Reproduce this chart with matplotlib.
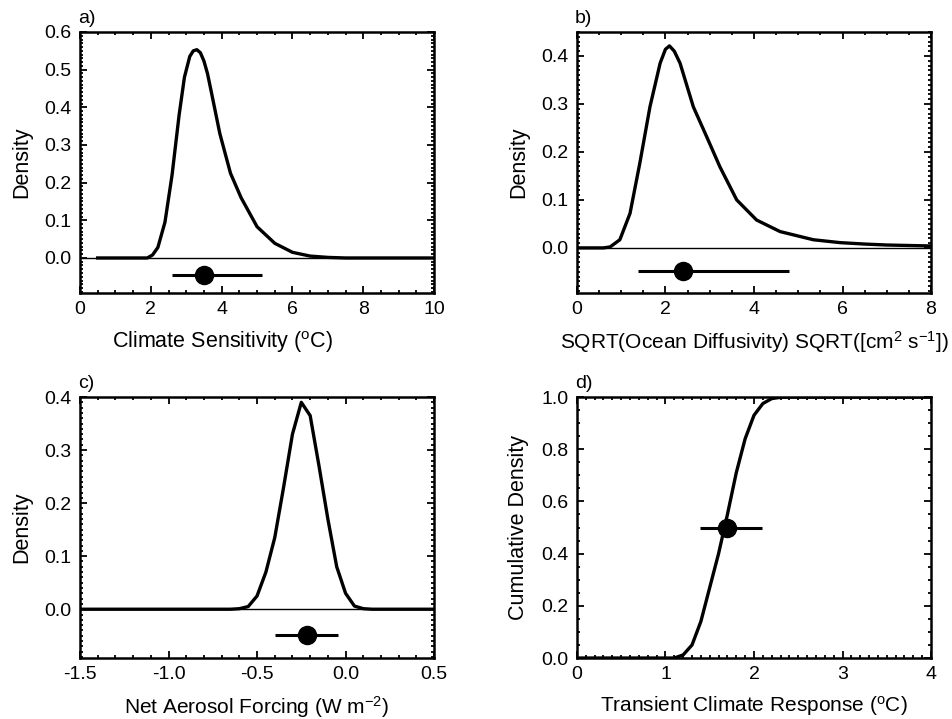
import numpy as np
import matplotlib
matplotlib.use('Agg')
import matplotlib.pyplot as plt
from matplotlib.ticker import MultipleLocator

plt.rcParams['font.family'] = ['Liberation Sans', 'DejaVu Sans']
plt.rcParams['mathtext.fontset'] = 'custom'
plt.rcParams['mathtext.rm'] = 'Liberation Sans'
plt.rcParams['mathtext.it'] = 'Liberation Sans'

# a) climate sensitivity pdf
cs_x = [0.5, 1.5, 1.9, 2.05, 2.2, 2.4, 2.6, 2.8, 2.95, 3.1, 3.2, 3.3, 3.4, 3.5, 3.6, 3.7,
        3.95, 4.25, 4.55, 5.0, 5.5, 6.0, 6.5, 7.0, 7.5, 8.5, 10.0]
cs_y = [0.0, 0.0, 0.0, 0.008, 0.028, 0.095, 0.22, 0.38, 0.48, 0.535, 0.550, 0.553, 0.545,
        0.523, 0.49, 0.445, 0.33, 0.225, 0.16, 0.083, 0.039, 0.015, 0.005, 0.0015, 0.0,
        0.0, 0.0]
cs_mode, cs_lo, cs_hi = 3.49, 2.59, 5.15

# b) sqrt(ocean diffusivity) pdf
kv_x = [0.0, 0.6, 0.75, 0.97, 1.2, 1.42, 1.65, 1.88, 2.0, 2.09, 2.2, 2.33, 2.63, 2.93, 3.23,
        3.61, 4.06, 4.59, 5.34, 5.94, 6.5, 7.0, 8.0]
kv_y = [0.0, 0.0, 0.002, 0.017, 0.072, 0.176, 0.294, 0.385, 0.414, 0.421, 0.41, 0.385, 0.294,
        0.232, 0.169, 0.100, 0.058, 0.034, 0.017, 0.011, 0.008, 0.006, 0.004]
kv_mode, kv_lo, kv_hi = 2.39, 1.37, 4.80

# c) net aerosol forcing pdf
af_x = [-1.5, -0.65, -0.6, -0.55, -0.5, -0.45, -0.4, -0.35, -0.3, -0.25, -0.2, -0.15, -0.1,
        -0.05, 0.0, 0.05, 0.1, 0.15, 0.5]
af_y = [0.0, 0.0, 0.001, 0.005, 0.025, 0.07, 0.135, 0.23, 0.33, 0.39, 0.365, 0.27, 0.17,
        0.08, 0.03, 0.006, 0.001, 0.0, 0.0]
af_mode, af_lo, af_hi = -0.216, -0.40, -0.042

# d) transient climate response cdf
tcr_x = [0.0, 1.1, 1.2, 1.3, 1.4, 1.5, 1.6, 1.7, 1.8, 1.9, 2.0, 2.1, 2.2, 2.3, 2.4, 4.0]
tcr_y = [0.0, 0.0, 0.012, 0.05, 0.14, 0.27, 0.40, 0.55, 0.71, 0.84, 0.93, 0.975, 0.994, 0.999,
         1.0, 1.0]
tcr_mode, tcr_lo, tcr_hi = 1.70, 1.39, 2.09

fig = plt.figure(figsize=(9.52, 7.19), dpi=100)
w, h = 0.372, 0.363
axa = fig.add_axes([0.084, 0.5925, w, h])
axb = fig.add_axes([0.606, 0.5925, w, h])
axc = fig.add_axes([0.084, 0.0848, w, h])
axd = fig.add_axes([0.606, 0.0848, w, h])


def style(ax, xmin, xmax, ymin, ymax, xmaj, xmin_step, ymaj, ymin_step, xlabel, ylabel, tag,
          xfs=15.5):
    ax.set_xlim(xmin, xmax)
    ax.set_ylim(ymin, ymax)
    ax.xaxis.set_major_locator(MultipleLocator(xmaj))
    ax.xaxis.set_minor_locator(MultipleLocator(xmin_step))
    ax.yaxis.set_major_locator(MultipleLocator(ymaj))
    ax.yaxis.set_minor_locator(MultipleLocator(ymin_step))
    ax.tick_params(which='both', direction='in', top=True, right=True, width=1.3,
                   labelsize=14, pad=6)
    ax.tick_params(which='major', length=5)
    ax.tick_params(which='minor', length=2.5)
    for s in ax.spines.values():
        s.set_linewidth(1.8)
    ax.set_xlabel(xlabel, fontsize=xfs, labelpad=8)
    ax.set_ylabel(ylabel, fontsize=15.5, labelpad=9)
    ax.text(-0.005, 1.02, tag, transform=ax.transAxes, fontsize=14, ha='left', va='bottom')


def errbar(ax, m, lo, hi, y):
    ax.plot([lo, hi], [y, y], color='black', lw=2.2, solid_capstyle='butt')
    ax.plot([m], [y], 'o', color='black', ms=13)


# a
axa.axhline(0, color='black', lw=1.0)
axa.plot(cs_x, cs_y, color='black', lw=2.4)
errbar(axa, cs_mode, cs_lo, cs_hi, -0.046)
style(axa, 0, 10, -0.093, 0.6, 2, 0.5, 0.1, 0.01,
      r'Climate Sensitivity ($^{\rm o}$C)', 'Density', 'a)')
axa.set_yticks([0, 0.1, 0.2, 0.3, 0.4, 0.5, 0.6])
axa.set_yticklabels(['0.0', '0.1', '0.2', '0.3', '0.4', '0.5', '0.6'])
axa.xaxis.label.set_x(0.403)

# b
axb.axhline(0, color='black', lw=1.0)
axb.plot(kv_x, kv_y, color='black', lw=2.4)
errbar(axb, kv_mode, kv_lo, kv_hi, -0.048)
style(axb, 0, 8, -0.094, 0.45, 2, 0.5, 0.1, 0.01,
      r'SQRT(Ocean Diffusivity) SQRT([cm$^{2}$ s$^{-1}$])', 'Density', 'b)', xfs=15)
axb.set_yticks([0, 0.1, 0.2, 0.3, 0.4])
axb.set_yticklabels(['0.0', '0.1', '0.2', '0.3', '0.4'])

# c
axc.axhline(0, color='black', lw=1.0)
axc.plot(af_x, af_y, color='black', lw=2.4)
errbar(axc, af_mode, af_lo, af_hi, -0.048)
style(axc, -1.5, 0.5, -0.092, 0.4, 0.5, 0.1, 0.1, 0.01,
      r'Net Aerosol Forcing (W m$^{-2}$)', 'Density', 'c)', xfs=15)
axc.set_xticks([-1.5, -1.0, -0.5, 0.0, 0.5])
axc.set_xticklabels(['-1.5', '-1.0', '-0.5', '0.0', '0.5'])
axc.set_yticks([0, 0.1, 0.2, 0.3, 0.4])
axc.set_yticklabels(['0.0', '0.1', '0.2', '0.3', '0.4'])

# d
axd.plot(tcr_x, tcr_y, color='black', lw=2.4)
errbar(axd, tcr_mode, tcr_lo, tcr_hi, 0.5)
style(axd, 0, 4, 0, 1.0, 1, 0.1, 0.2, 0.05,
      r'Transient Climate Response ($^{\rm o}$C)', 'Cumulative Density', 'd)', xfs=15)
axd.set_yticks([0, 0.2, 0.4, 0.6, 0.8, 1.0])
axd.set_yticklabels(['0.0', '0.2', '0.4', '0.6', '0.8', '1.0'])

fig.savefig('out.png', dpi=100)
